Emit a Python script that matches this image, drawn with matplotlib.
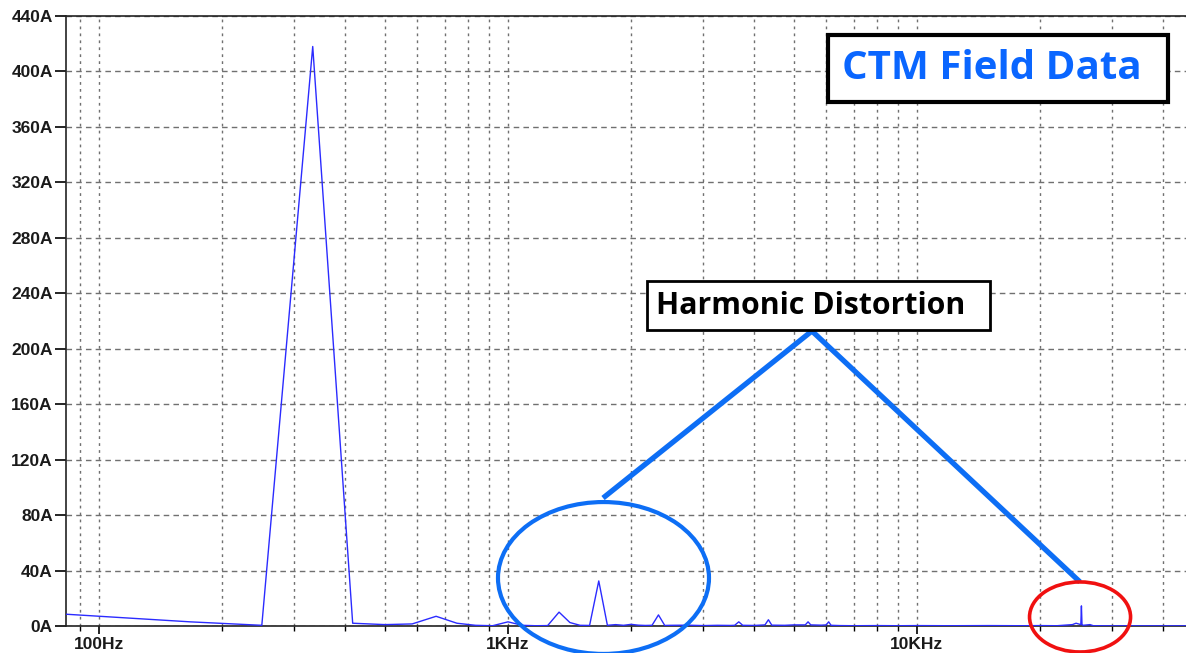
import numpy as np
import matplotlib
matplotlib.use("Agg")
import matplotlib.pyplot as plt
from matplotlib.patches import Ellipse, Rectangle
from matplotlib.ticker import FixedLocator, NullFormatter

# spectrum (Hz, A)
freq_hz = [83, 167, 250, 333, 417, 500, 583, 667, 750, 833, 917, 1000,
           1083, 1167, 1250, 1333, 1417, 1500, 1583, 1667, 1750, 1833,
           1917, 2000, 2083, 2167, 2250, 2333, 2417, 2500, 2750, 3000,
           3250, 3500, 3583, 3667, 3750, 4000, 4250, 4333, 4417, 4750,
           5000, 5333, 5417, 5500, 5833, 6000, 6083, 6167, 6500, 7000,
           8000, 9000, 10000, 12000, 15000, 18000, 20000, 22000, 24000,
           24500, 25167, 25250, 25333, 25500, 26500, 27000, 30000, 46000]
amps_a = [8.5, 3.0, 0.5, 418, 2.0, 1.0, 1.5, 7.0, 2.0, 0.5, 0.2, 3.0,
          0.5, 0.2, 0.3, 10.0, 2.5, 0.5, 0.4, 32.5, 0.5, 1.0,
          0.5, 1.2, 0.6, 0.4, 0.5, 8.0, 0.4, 0.5, 0.6, 0.3,
          0.5, 0.4, 0.5, 3.0, 0.5, 0.4, 0.8, 4.5, 0.6, 0.5,
          0.8, 0.8, 3.0, 0.8, 0.6, 0.8, 3.0, 0.5, 0.3, 0.2,
          0.3, 0.2, 0.3, 0.2, 0.3, 0.2, 0.3, 0.2, 1.0,
          2.0, 1.0, 14.5, 1.0, 0.5, 1.0, 0.2, 0.1, 0.1]

y_ticks = [0, 40, 80, 120, 160, 200, 240, 280, 320, 360, 400, 440]
y_labels = [f"{v}A" for v in y_ticks]
x_major = [100, 1000, 10000]
x_labels = ["100Hz", "1KHz", "10KHz"]

W, H = 1186, 653
fig = plt.figure(figsize=(W / 100, H / 100), dpi=100)
# axes box in pixels: left 66, right 1186, top 16, bottom 626
ax = fig.add_axes([66 / W, (H - 626) / H, 1120 / W, 610 / H])

ax.plot(freq_hz, amps_a, color="#2b2bff", lw=1.0, zorder=3)

ax.set_xscale("log")
ax.set_xlim(83, 45500)
ax.set_ylim(0, 440)

ax.xaxis.set_major_locator(FixedLocator(x_major))
ax.set_xticklabels(x_labels)
minor = [m * d for d in (10, 100, 1000, 10000) for m in range(2, 10)]
ax.xaxis.set_minor_locator(FixedLocator(minor))
ax.xaxis.set_minor_formatter(NullFormatter())
ax.set_yticks(y_ticks)
ax.set_yticklabels(y_labels)

for lbl in ax.get_xticklabels() + ax.get_yticklabels():
    lbl.set_fontfamily("Liberation Sans")
    lbl.set_fontweight("bold")
    lbl.set_fontsize(12.5)
    lbl.set_color("#1a1a1a")

ax.tick_params(axis="y", which="major", length=8, width=1.2, pad=1.5)
ax.tick_params(axis="x", which="major", length=6, width=1.2, pad=2)
ax.tick_params(axis="x", which="minor", length=3.5, width=1.0)

ax.grid(True, axis="y", which="major", color="#707070", ls=(0, (4, 3)), lw=1.0)
ax.grid(True, axis="x", which="both", color="#707070", ls=(0, (2, 3)), lw=1.0)

ax.spines["right"].set_visible(False)
for s in ("left", "bottom", "top"):
    ax.spines[s].set_linewidth(1.2)
    ax.spines[s].set_color("#222222")

blue = "#0d6ef5"

# callout lines from the label box to the two circled regions
ax.plot([0.666, 0.4795], [0.4836, 0.2098], transform=ax.transAxes,
        color=blue, lw=3.8, solid_capstyle="butt", zorder=5, clip_on=False)
ax.plot([0.666, 0.9054], [0.4836, 0.0721], transform=ax.transAxes,
        color=blue, lw=3.8, solid_capstyle="butt", zorder=5, clip_on=False)

ax.add_patch(Ellipse((0.4799, 0.0787), 0.1884, 0.249, transform=ax.transAxes,
                     fill=False, ec=blue, lw=3.0, zorder=5, clip_on=False))
ax.add_patch(Ellipse((0.9054, 0.0148), 0.0902, 0.1148, transform=ax.transAxes,
                     fill=False, ec="#f01010", lw=2.6, zorder=5, clip_on=False))

# label boxes
ax.add_patch(Rectangle((0.5188, 0.4852), 0.3063, 0.0803, transform=ax.transAxes,
                       fc="white", ec="black", lw=2.0, zorder=6))
ax.text(0.6647, 0.5254, "Harmonic Distortion", transform=ax.transAxes,
        ha="center", va="center", fontsize=21.8, fontweight="bold",
        family="Open Sans", color="black", zorder=7)

ax.add_patch(Rectangle((0.6804, 0.859), 0.3036, 0.1098, transform=ax.transAxes,
                       fc="white", ec="black", lw=3.0, zorder=6))
ax.text(0.8263, 0.9139, "CTM Field Data", transform=ax.transAxes,
        ha="center", va="center", fontsize=29, fontweight="bold",
        family="Open Sans", color="#0a66ff", zorder=7)

fig.savefig("out.png", dpi=100)
